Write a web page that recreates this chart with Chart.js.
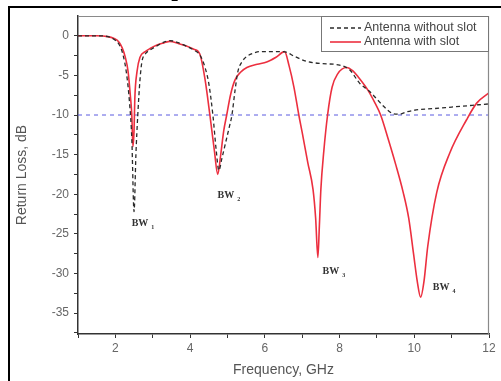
<!DOCTYPE html>
<html>
<head>
<meta charset="utf-8">
<script src="https://cdn.jsdelivr.net/npm/chart.js@4/dist/chart.umd.min.js"></script>
<style>
  html, body { margin: 0; padding: 0; background: #fff; overflow: hidden; width: 501px; height: 381px; }
  #wrap { position: relative; width: 501px; height: 381px; overflow: hidden; }
  .cut { position: absolute; z-index: 2; top: -20px; font: 18px "Liberation Serif", serif; color: #000; white-space: nowrap; }
  #chart { position: absolute; left: 0; top: 0; }
</style>
</head>
<body>
<div id="wrap">
  <canvas id="chart" width="501" height="381"></canvas>
  <div class="cut" style="left:86px">quency by f<sub>2</sub></div>
  <div class="cut" style="left:424px">quency</div>
</div>
<script>
// ---- data ----
const withoutSlotFreq = [1.0, 1.5, 1.8, 1.95, 2.1, 2.2, 2.3, 2.38, 2.44, 2.5, 2.55, 2.6, 2.66, 2.71, 2.8, 2.93, 3.1, 3.3, 3.46, 3.7, 3.9, 4.1, 4.26, 4.4, 4.5, 4.61, 4.7, 4.77, 4.85, 4.95, 5.05, 5.12, 5.2, 5.28, 5.4, 5.52, 5.7, 5.87, 6.2, 6.5, 6.8, 7.1, 7.5, 8.0, 8.27, 8.54, 8.8, 9.0, 9.2, 9.42, 9.6, 9.8, 10.14, 10.5, 11.0, 11.5, 12.0];
const withoutSlotDb   = [0, 0, -0.1, -0.4, -1.1, -2.3, -4.8, -8.5, -13, -22.2, -15, -10, -5.5, -3.3, -2.3, -1.8, -1.3, -0.8, -0.6, -0.9, -1.3, -1.8, -2.4, -4, -6, -10, -14.5, -17, -15.5, -13.5, -11.5, -10, -7, -4.5, -3.2, -2.6, -2.2, -2.0, -2.0, -2.0, -2.6, -3.2, -3.5, -3.7, -4.3, -6, -7.0, -8.0, -9.0, -9.8, -9.9, -9.6, -9.3, -9.2, -9.0, -8.8, -8.6];

const withSlotFreq = [1.0, 1.5, 1.8, 1.95, 2.1, 2.18, 2.26, 2.34, 2.4, 2.44, 2.47, 2.5, 2.52, 2.58, 2.66, 2.8, 2.93, 3.1, 3.3, 3.46, 3.7, 3.9, 4.1, 4.26, 4.4, 4.53, 4.65, 4.74, 4.82, 4.9, 4.98, 5.08, 5.2, 5.35, 5.52, 5.8, 6.05, 6.3, 6.53, 6.65, 6.78, 6.91, 7.0, 7.15, 7.29, 7.36, 7.42, 7.46, 7.5, 7.58, 7.68, 7.8, 7.95, 8.19, 8.35, 8.5, 8.75, 8.95, 9.1, 9.3, 9.5, 9.7, 9.85, 9.98, 10.08, 10.17, 10.26, 10.36, 10.6, 10.95, 11.4, 11.67, 12.0];
const withSlotDb   = [0, 0, -0.1, -0.3, -0.8, -1.5, -2.6, -4.5, -7.5, -10, -14, -12, -8, -4.5, -2.7, -2.0, -1.6, -1.2, -0.9, -0.7, -1.0, -1.3, -1.7, -2.3, -5.5, -10, -14.5, -17.5, -15, -12, -10, -7.5, -5.6, -4.6, -4.0, -3.6, -3.3, -2.7, -2.0, -3.8, -6.5, -10, -12.2, -16, -19.4, -23, -28, -24, -19.4, -14.5, -10, -6.5, -4.8, -4.0, -4.4, -5.2, -6.8, -8.5, -10, -13, -16.2, -19.7, -23, -27.5, -31, -33, -31, -26.6, -19.8, -14.8, -10.6, -8.5, -7.2];

const refFreq = [1, 12];
const refDb = [-10, -10];

const xTickValues = [1, 2, 3, 4, 5, 6, 7, 8, 9, 10, 11, 12];
const yTickValues = [-37.5, -35, -32.5, -30, -27.5, -25, -22.5, -20, -17.5, -15, -12.5, -10, -7.5, -5, -2.5, 0];

const bwLabels = ['1', '2', '3', '4'];
const bwLabelFreq = [2.74, 5.04, 7.85, 10.8];
const bwLabelDb = [-23.7, -20.1, -29.8, -31.8];

const toPoints = (xs, ys) => xs.map((x, i) => ({ x, y: ys[i] }));

// page frame (left/top black rule of the scanned figure) and plot frame top/right
const frames = {
    id: 'frames',
    beforeDraw(chart) {
        const { ctx } = chart;
        ctx.save();
        ctx.fillStyle = '#000';
        ctx.fillRect(8, 6, 2, chart.height - 6);
        ctx.fillRect(8, 6, chart.width - 8, 2);
        ctx.restore();
    },
    afterDatasetsDraw(chart) {
        const { ctx, chartArea: a } = chart;
        ctx.save();
        ctx.strokeStyle = '#8a8a8a';
        ctx.lineWidth = 1.2;
        ctx.beginPath();
        ctx.moveTo(a.left, a.top + 0.5);
        ctx.lineTo(a.right - 0.5, a.top + 0.5);
        ctx.lineTo(a.right - 0.5, a.bottom);
        ctx.stroke();
        ctx.restore();
    }
};

// legend box inside the plot, top right
const boxLegend = {
    id: 'boxLegend',
    afterDraw(chart) {
        const { ctx, chartArea: a } = chart;
        const sets = chart.data.datasets.filter(d => d.inLegend);
        const w = 168, h = 36;
        const x0 = a.right - w, y0 = a.top;
        ctx.save();
        ctx.fillStyle = '#fff';
        ctx.fillRect(x0, y0, w, h);
        ctx.strokeStyle = '#777';
        ctx.lineWidth = 1;
        ctx.strokeRect(x0 + 0.5, y0 + 0.5, w - 1, h - 1);
        ctx.font = '12.5px "Liberation Sans", Arial, sans-serif';
        ctx.textBaseline = 'middle';
        sets.forEach((d, i) => {
            const y = y0 + 12 + i * 14;
            ctx.strokeStyle = d.borderColor;
            ctx.lineWidth = d.borderWidth;
            ctx.setLineDash(d.borderDash || []);
            ctx.beginPath();
            ctx.moveTo(x0 + 9, y);
            ctx.lineTo(x0 + 40, y);
            ctx.stroke();
            ctx.setLineDash([]);
            ctx.fillStyle = '#444';
            ctx.fillText(d.label, x0 + 43, y);
        });
        ctx.restore();
    }
};

// BW annotations
const bwNotes = {
    id: 'bwNotes',
    afterDatasetsDraw(chart) {
        const { ctx, scales: { x, y } } = chart;
        ctx.save();
        ctx.fillStyle = '#333';
        ctx.textBaseline = 'middle';
        bwLabels.forEach((s, i) => {
            const px = x.getPixelForValue(bwLabelFreq[i]);
            const py = y.getPixelForValue(bwLabelDb[i]);
            ctx.font = 'bold 10px "Liberation Serif", "Times New Roman", serif';
            const tw = ctx.measureText('BW').width;
            ctx.fillText('BW', px - tw / 2 - 3, py);
            ctx.font = 'bold 6px "Liberation Serif", serif';
            ctx.fillText(s, px + tw / 2, py + 4);
        });
        ctx.restore();
    }
};

const tickFont = { family: '"Liberation Sans", Arial, sans-serif', size: 12 };
const titleFont = { family: '"Liberation Sans", Arial, sans-serif', size: 14 };

new Chart(document.getElementById('chart'), {
    type: 'line',
    data: {
        datasets: [
            { label: 'Antenna without slot', inLegend: true, data: toPoints(withoutSlotFreq, withoutSlotDb),
              borderColor: '#2a2a2a', borderWidth: 1.3, borderDash: [4, 3], pointRadius: 0, cubicInterpolationMode: 'monotone' },
            { label: 'Antenna with slot', inLegend: true, data: toPoints(withSlotFreq, withSlotDb),
              borderColor: '#ec2f3f', borderWidth: 1.6, pointRadius: 0, cubicInterpolationMode: 'monotone' },
            { label: '-10 dB', data: toPoints(refFreq, refDb),
              borderColor: '#5b5be0', borderWidth: 1, borderDash: [4, 4], pointRadius: 0 }
        ]
    },
    options: {
        responsive: false, animation: false,
        layout: { padding: { top: 16, right: 12, left: 0, bottom: 0 } },
        plugins: { legend: { display: false }, tooltip: { enabled: false } },
        scales: {
            x: {
                type: 'linear', min: 1, max: 12,
                afterFit: s => { s.height = 47; },
                afterBuildTicks: s => { s.ticks = xTickValues.map(v => ({ value: v })); },
                ticks: { color: '#666', font: tickFont, padding: 3, maxRotation: 0, autoSkip: false,
                         callback: v => (v % 2 === 0 ? v : '') },
                grid: { drawOnChartArea: false, tickLength: 4, color: '#333' },
                border: { color: '#333', width: 1.5 },
                title: { display: true, text: 'Frequency, GHz', color: '#555', font: titleFont, padding: { top: 0, bottom: 2 } }
            },
            y: {
                type: 'linear', min: -37.65, max: 2.5,
                afterFit: s => { s.width = 78; },
                afterBuildTicks: s => { s.ticks = yTickValues.map(v => ({ value: v })); },
                ticks: { color: '#666', font: tickFont, padding: 5, autoSkip: false,
                         callback: v => (v % 5 === 0 ? v : '') },
                grid: { drawOnChartArea: false, tickLength: 4, color: '#333' },
                border: { color: '#333', width: 1.5 },
                title: { display: true, text: 'Return Loss, dB', color: '#555', font: titleFont, padding: { top: 14, bottom: 0 } }
            }
        }
    },
    plugins: [frames, bwNotes, boxLegend]
});
</script>
</body>
</html>
